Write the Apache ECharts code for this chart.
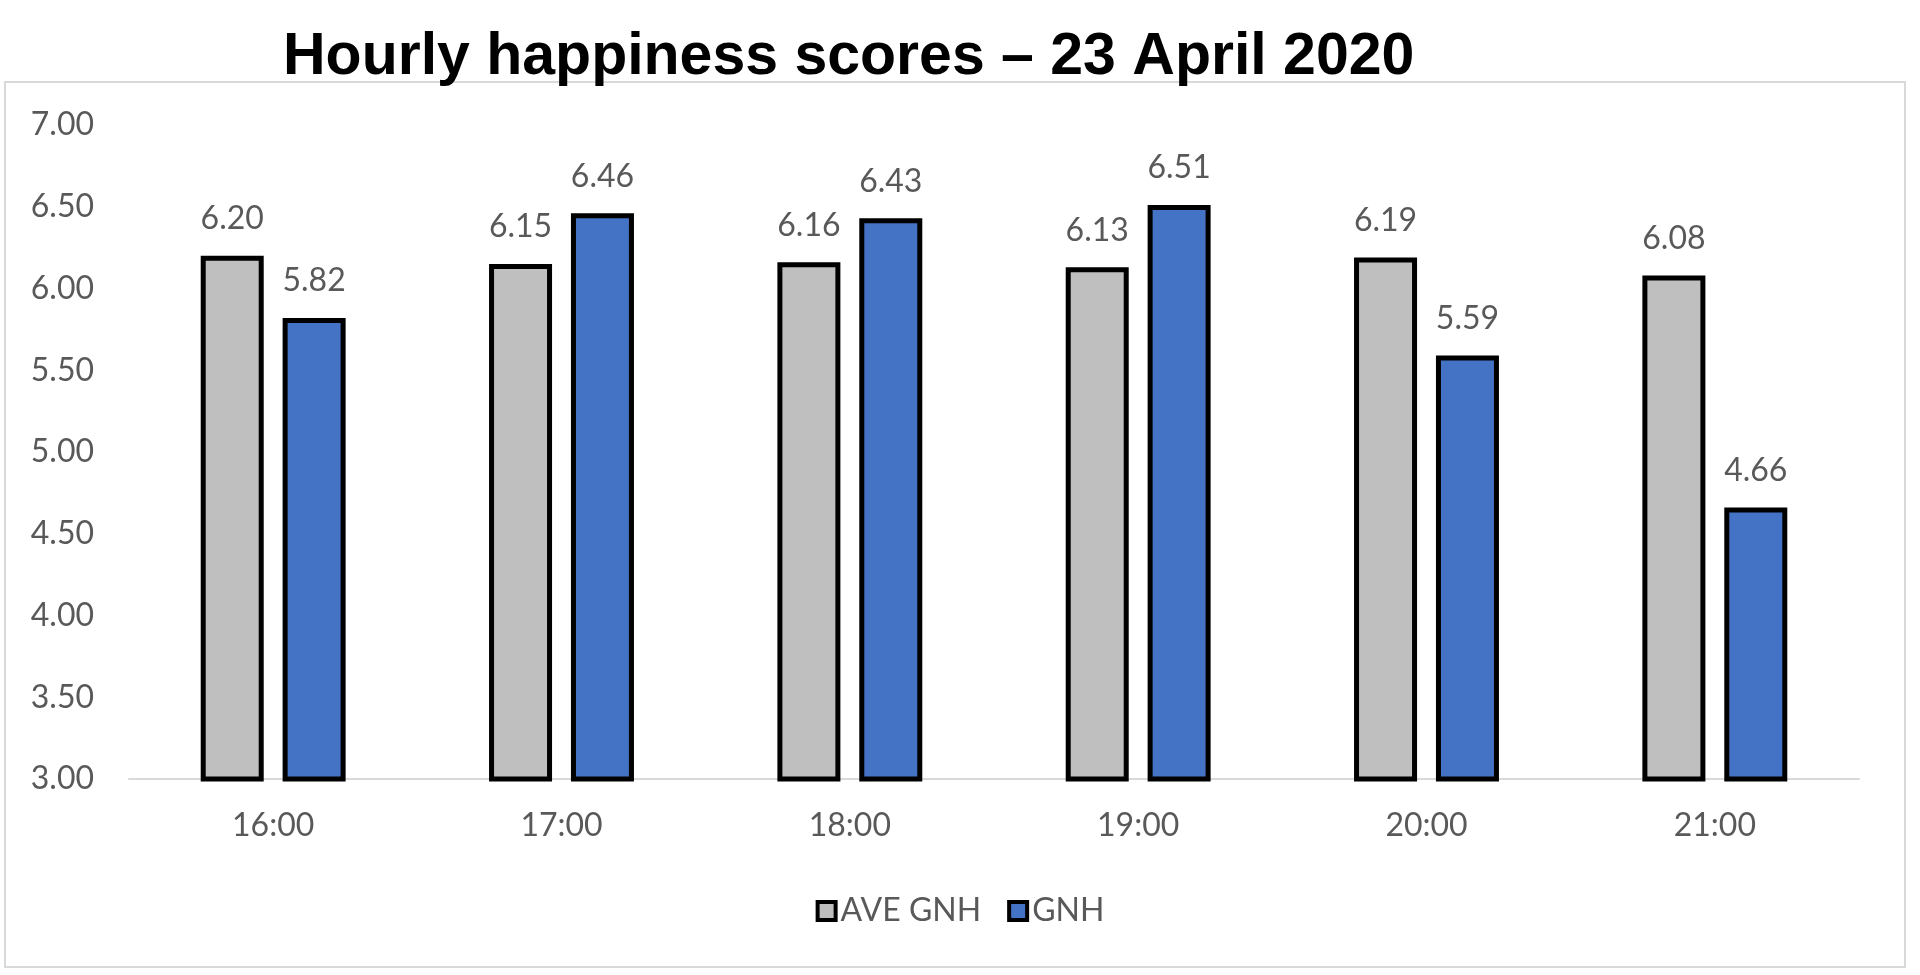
<!DOCTYPE html>
<html>
<head>
<meta charset="utf-8">
<style>
  html, body { margin: 0; padding: 0; background: #ffffff; }
  #chart { width: 1920px; height: 975px; }
</style>
<script src="https://cdn.jsdelivr.net/npm/echarts@6/dist/echarts.min.js"></script>
</head>
<body>
<div id="chart"></div>
<script>
const titleText = 'Hourly happiness scores \u2013 23 April 2020';
const categories = ['16:00', '17:00', '18:00', '19:00', '20:00', '21:00'];
const aveGnh = [6.20, 6.15, 6.16, 6.13, 6.19, 6.08];
const gnh = [5.82, 6.46, 6.43, 6.51, 5.59, 4.66];
const seriesNames = ['AVE GNH', 'GNH'];

const labelFont = 'Lato';
const textColor = '#595959';

const chart = echarts.init(document.getElementById('chart'), null, { renderer: 'canvas' });

function barLabel() {
  return {
    show: true,
    position: 'top',
    distance: 21,
    formatter: p => p.value.toFixed(2),
    fontFamily: labelFont,
    fontSize: 32,
    color: textColor
  };
}

chart.setOption({
  animation: false,
  backgroundColor: '#ffffff',
  title: {
    text: titleText,
    left: 278,
    top: 23,
    textStyle: {
      fontFamily: 'Liberation Sans',
      fontWeight: 'bold',
      fontSize: 59,
      color: '#000000'
    }
  },
  graphic: [{
    type: 'rect',
    shape: { x: 5, y: 82, width: 1900, height: 885 },
    style: { fill: 'none', stroke: '#D9D9D9', lineWidth: 2 },
    silent: true,
    z: -1
  }],
  legend: {
    data: seriesNames,
    left: 'center',
    top: 890,
    icon: 'rect',
    itemWidth: 18,
    itemHeight: 18,
    itemGap: 26,
    itemStyle: { borderColor: '#000000', borderWidth: 4 },
    textStyle: { fontFamily: labelFont, fontSize: 32, color: textColor, padding: [0, 0, 0, 0] }
  },
  grid: { left: 129, right: 61, top: 125, bottom: 196, containLabel: false },
  xAxis: {
    type: 'category',
    data: categories,
    axisLine: { show: true, lineStyle: { color: '#D9D9D9', width: 2 } },
    axisTick: { show: false },
    axisLabel: { margin: 31, fontFamily: labelFont, fontSize: 32, color: textColor },
    splitLine: { show: false }
  },
  yAxis: {
    type: 'value',
    min: 3,
    max: 7,
    interval: 0.5,
    axisLine: { show: false },
    axisTick: { show: false },
    splitLine: { show: false },
    axisLabel: {
      margin: 35,
      formatter: v => v.toFixed(2),
      fontFamily: labelFont,
      fontSize: 32,
      color: textColor
    }
  },
  series: [
    {
      name: seriesNames[0],
      type: 'bar',
      data: aveGnh,
      barWidth: 63,
      barGap: '30%',
      itemStyle: { color: '#BFBFBF', borderColor: '#000000', borderWidth: 5 },
      label: barLabel()
    },
    {
      name: seriesNames[1],
      type: 'bar',
      data: gnh,
      barWidth: 63,
      barGap: '30%',
      itemStyle: { color: '#4472C4', borderColor: '#000000', borderWidth: 5 },
      label: barLabel()
    }
  ]
});
</script>
</body>
</html>
